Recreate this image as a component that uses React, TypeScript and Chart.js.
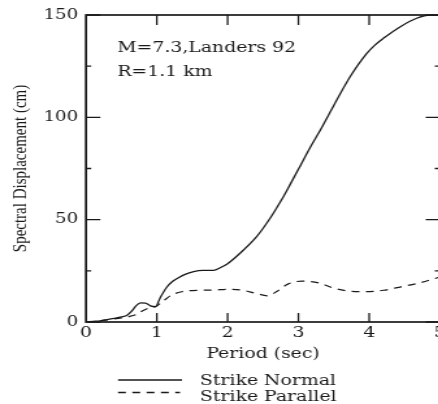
import React, { useEffect, useRef } from "react";
import { Chart, registerables } from "chart.js";

Chart.register(...registerables);

// ---- data (period in sec, spectral displacement in cm) ----
const periodNormal = [0, 0.1, 0.2, 0.3, 0.4, 0.5, 0.58, 0.65, 0.71, 0.77, 0.84, 0.91, 0.98, 1.05, 1.14, 1.22, 1.3, 1.4, 1.52, 1.65, 1.8, 1.9, 2.0, 2.175, 2.41, 2.6, 2.76, 2.88, 3.02, 3.16, 3.31, 3.49, 3.73, 3.96, 4.08, 4.2, 4.44, 4.67, 4.86, 5.0];
const dispNormal = [0, 0.3, 0.6, 1.2, 1.8, 2.5, 3.3, 5.5, 8.0, 9.3, 9.2, 7.9, 7.5, 12.0, 17.0, 19.8, 21.5, 23.3, 24.6, 25.2, 25.2, 26.6, 28.5, 33.6, 41.7, 50.7, 59.6, 67.0, 75.9, 84.9, 93.8, 105.2, 119.8, 131.0, 135.3, 138.6, 144.3, 148.4, 150.0, 150.0];

const periodParallel = [0, 0.2, 0.4, 0.6, 0.7, 0.8, 0.9, 0.98, 1.1, 1.2, 1.35, 1.6, 1.8, 2.0, 2.2, 2.4, 2.56, 2.7, 2.85, 3.05, 3.3, 3.5, 3.75, 3.95, 4.2, 4.45, 4.7, 5.0];
const dispParallel = [0, 0.5, 1.5, 2.6, 3.5, 5.5, 7.0, 7.5, 10.5, 13.0, 14.8, 15.5, 15.6, 16.0, 15.6, 14.0, 12.8, 15.0, 18.5, 20.0, 19.0, 16.5, 15.0, 14.8, 15.5, 17.2, 19.0, 22.0];

const seriesLabels = ["Strike Normal", "Strike Parallel"];
const xTickValues = [0, 1, 2, 3, 4, 5];
const yMajorTicks = [0, 50, 100, 150];
const yMinorTicks = [25, 75, 125];
const annotationLines = ["M=7.3,Landers 92", "R=1.1 km"];
const xTitle = "Period (sec)";
const yTitle = "Spectral Displacement (cm)";

// ---- layout / style ----
const STRETCH = 1.3;
const CW = 350;
const CH = 404;
const INK = "#1a1a1a";
const SERIF = "'DejaVu Serif', serif";
const TIMES = "'Liberation Serif', serif";

const decorPlugin = {
  id: "decor",
  afterDraw(chart: any) {
    const { ctx, chartArea: a, scales } = chart;
    const x = scales.x;
    const y = scales.y;
    ctx.save();
    ctx.strokeStyle = INK;
    ctx.lineWidth = 1.7;
    ctx.strokeRect(a.left, a.top, a.right - a.left, a.bottom - a.top);

    ctx.lineWidth = 1.3;
    ctx.beginPath();
    for (const v of yMajorTicks) {
      const py = y.getPixelForValue(v);
      ctx.moveTo(a.left, py);
      ctx.lineTo(a.left + 11, py);
      ctx.moveTo(a.right, py);
      ctx.lineTo(a.right - 11, py);
    }
    for (const v of yMinorTicks) {
      const py = y.getPixelForValue(v);
      ctx.moveTo(a.left, py);
      ctx.lineTo(a.left + 4, py);
      ctx.moveTo(a.right, py);
      ctx.lineTo(a.right - 4, py);
    }
    for (const v of xTickValues) {
      const px = x.getPixelForValue(v);
      if (px <= a.left + 1 || px >= a.right - 1) continue;
      ctx.moveTo(px, a.bottom);
      ctx.lineTo(px, a.bottom - 9);
      ctx.moveTo(px, a.top);
      ctx.lineTo(px, a.top + 10);
    }
    ctx.stroke();

    // annotation
    ctx.fillStyle = INK;
    ctx.font = `14.5px ${SERIF}`;
    ctx.textAlign = "left";
    ctx.textBaseline = "alphabetic";
    ctx.fillText(annotationLines[0], a.left + 24, 51.5);
    ctx.fillText(annotationLines[1], a.left + 24, 76);

    // legend
    const lineY = [380, 392.5];
    const textY = [384.5, 401];
    const lineEnd = [140, 138.5];
    chart.data.datasets.forEach((ds: any, i: number) => {
      ctx.beginPath();
      ctx.strokeStyle = ds.borderColor;
      ctx.lineWidth = 1.3;
      ctx.setLineDash(ds.borderDash || []);
      ctx.moveTo(90.8, lineY[i]);
      ctx.lineTo(lineEnd[i], lineY[i]);
      ctx.stroke();
      ctx.setLineDash([]);
      ctx.fillText(ds.label, 153.8, textY[i]);
    });
    ctx.restore();
  },
};

export default function App() {
  const ref = useRef<HTMLCanvasElement | null>(null);

  useEffect(() => {
    if (!ref.current) return;
    const chart = new Chart(ref.current, {
      type: "line",
      data: {
        datasets: [
          {
            label: seriesLabels[0],
            data: periodNormal.map((p, i) => ({ x: p, y: dispNormal[i] })),
            borderColor: INK,
            borderWidth: 1.3,
            pointRadius: 0,
            fill: false,
            cubicInterpolationMode: "monotone",
          },
          {
            label: seriesLabels[1],
            data: periodParallel.map((p, i) => ({ x: p, y: dispParallel[i] })),
            borderColor: INK,
            borderWidth: 1.2,
            borderDash: [6, 5],
            pointRadius: 0,
            fill: false,
            cubicInterpolationMode: "monotone",
          },
        ],
      },
      options: {
        responsive: false,
        animation: false,
        events: [],
        layout: { padding: { left: 0, right: CW - 440 / STRETCH, top: 15, bottom: 0 } },
        plugins: { legend: { display: false }, tooltip: { enabled: false } },
        scales: {
          x: {
            type: "linear",
            min: 0,
            max: 5,
            afterFit: (s: any) => {
              s.height = CH - 322;
            },
            afterBuildTicks: (s: any) => {
              s.ticks = xTickValues.map((v) => ({ value: v }));
            },
            ticks: {
              font: { family: SERIF, size: 14.5 },
              color: INK,
              padding: 3,
              maxRotation: 0,
              autoSkip: false,
            },
            grid: { display: false, drawTicks: false },
            border: { display: false },
            title: {
              display: true,
              text: xTitle,
              color: INK,
              font: { family: SERIF, size: 14.5 },
              padding: { top: 0, bottom: 41.3 },
            },
          },
          y: {
            type: "linear",
            min: 0,
            max: 150,
            afterFit: (s: any) => {
              s.width = 86 / STRETCH;
            },
            afterBuildTicks: (s: any) => {
              s.ticks = yMajorTicks.map((v) => ({ value: v }));
            },
            ticks: {
              font: { family: SERIF, size: 14 },
              color: INK,
              padding: 6,
            },
            grid: { display: false, drawTicks: false },
            border: { display: false },
            title: {
              display: true,
              text: yTitle,
              color: INK,
              font: { family: TIMES, size: 15 },
              padding: { top: 7, bottom: 0 },
            },
          },
        },
      },
      plugins: [decorPlugin],
    } as any);
    return () => chart.destroy();
  }, []);

  return (
    <div
      style={{
        position: "fixed",
        left: 0,
        top: 0,
        width: 438,
        height: 404,
        overflow: "hidden",
        background: "#fff",
      }}
    >
      <div style={{ transform: `scaleX(${STRETCH})`, transformOrigin: "0 0", width: CW, height: CH }}>
        <canvas ref={ref} width={CW} height={CH} style={{ display: "block" }} />
      </div>
    </div>
  );
}
